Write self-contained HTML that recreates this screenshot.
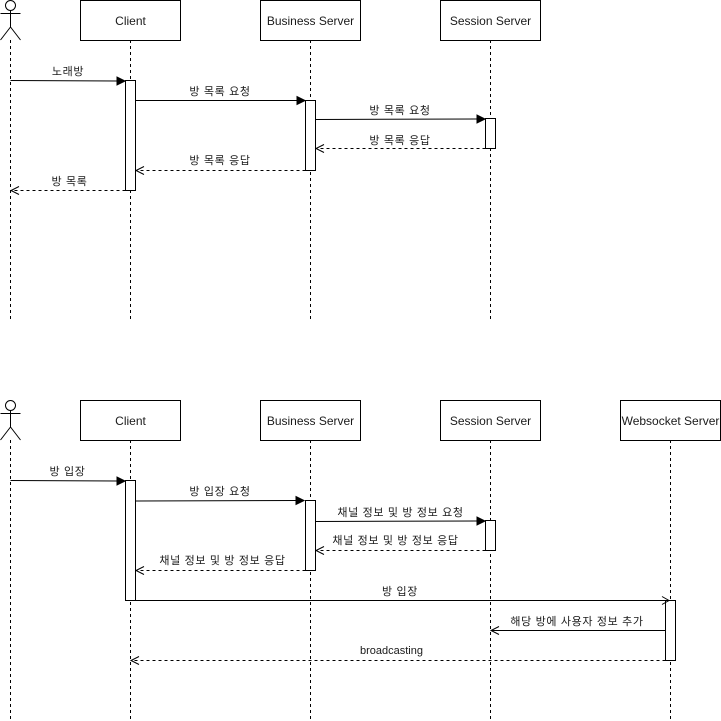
<!DOCTYPE html>
<html>
<head>
<meta charset="utf-8">
<style>
html,body{margin:0;padding:0;background:#fff;width:721px;height:721px;overflow:hidden}
svg{display:block}
text{font-family:"Liberation Sans","Noto Sans CJK KR",sans-serif;font-size:11px;fill:#1a1a1a;text-anchor:middle;letter-spacing:.65px}
text.h{font-size:12px;letter-spacing:0}
text.e{letter-spacing:0}
.l{stroke:#000;stroke-width:1;fill:none}
.d{stroke:#000;stroke-width:1;fill:none;stroke-dasharray:3 3}
.b{stroke:#000;stroke-width:1;fill:#fff}
</style>
</head>
<body>
<svg width="721" height="721" viewBox="0 0 721 721" xmlns="http://www.w3.org/2000/svg">
<!-- lifelines top -->
<path class="d" d="M10.5 40V320M130.5 40V320M310.5 40V320M490.5 40V320"/>
<!-- lifelines bottom -->
<path class="d" d="M10.5 440V720M130.5 440V720M310.5 440V720M490.5 440V720M670.5 440V720"/>

<!-- actor top -->
<circle class="b" cx="10.5" cy="5.5" r="5"/>
<path class="l" d="M10.5 10.5V27M0.5 13.5H20.5M10.5 27L0.5 40M10.5 27L20.5 40"/>
<!-- actor bottom -->
<circle class="b" cx="10.5" cy="405.5" r="5"/>
<path class="l" d="M10.5 410.5V427M0.5 413.5H20.5M10.5 427L0.5 440M10.5 427L20.5 440"/>

<!-- header boxes top -->
<rect class="b" x="80.5" y="0.5" width="100" height="40"/>
<rect class="b" x="260.5" y="0.5" width="100" height="40"/>
<rect class="b" x="440.5" y="0.5" width="100" height="40"/>
<text class="h" x="130.5" y="25">Client</text>
<text class="h" x="310.5" y="25">Business Server</text>
<text class="h" x="490.5" y="25">Session Server</text>

<!-- header boxes bottom -->
<rect class="b" x="80.5" y="400.5" width="100" height="40"/>
<rect class="b" x="260.5" y="400.5" width="100" height="40"/>
<rect class="b" x="440.5" y="400.5" width="100" height="40"/>
<rect class="b" x="620.5" y="400.5" width="100" height="40"/>
<text class="h" x="130.5" y="425">Client</text>
<text class="h" x="310.5" y="425">Business Server</text>
<text class="h" x="490.5" y="425">Session Server</text>
<text class="h" x="670.5" y="425">Websocket Server</text>

<!-- activations top -->
<rect class="b" x="125.5" y="80.5" width="10" height="110"/>
<rect class="b" x="305.5" y="100.5" width="10" height="70"/>
<rect class="b" x="485.5" y="118.5" width="10" height="30"/>

<!-- activations bottom -->
<rect class="b" x="125.5" y="480.5" width="10" height="120"/>
<rect class="b" x="305.5" y="500.5" width="10" height="70"/>
<rect class="b" x="485.5" y="520.5" width="10" height="30"/>
<rect class="b" x="665.5" y="600.5" width="10" height="60"/>

<!-- top messages -->
<path class="l" d="M10.5 80.5L118 81"/>
<path d="M125 81L117 85V77Z" fill="#000" stroke="#000"/>
<path class="l" d="M135.5 100.5H298"/>
<path d="M305 100.5L297 104.500V96.500Z" fill="#000" stroke="#000"/>
<path class="l" d="M315.500 119.500L478 119"/>
<path d="M485 119L477 123V115Z" fill="#000" stroke="#000"/>
<path class="d" d="M485.500 148.500H316"/>
<path class="l" d="M324 144.500L316 148.500L324 152.500"/>
<path class="d" d="M305.500 170.500H136"/>
<path class="l" d="M144 166.500L136 170.500L144 174.500"/>
<path class="d" d="M125.500 190.500H11"/>
<path class="l" d="M19 186.500L11 190.500L19 194.500"/>

<text x="68" y="75">노래방</text>
<text x="220" y="95">방 목록 요청</text>
<text x="400" y="114">방 목록 요청</text>
<text x="400" y="144">방 목록 응답</text>
<text x="220" y="164">방 목록 응답</text>
<text x="69.500" y="185">방 목록</text>

<!-- bottom messages -->
<path class="l" d="M10.500 480.500L118 481"/>
<path d="M125 481L117 485V477Z" fill="#000" stroke="#000"/>
<path class="l" d="M135.500 501L298 500.500"/>
<path d="M304 500.500L296 504.500V496.500Z" fill="#000" stroke="#000"/>
<path class="l" d="M315.500 521.500L478 521"/>
<path d="M485 521L477 525V517Z" fill="#000" stroke="#000"/>
<path class="d" d="M485.500 550.500H316"/>
<path class="l" d="M324 546.500L316 550.500L324 554.500"/>
<path class="d" d="M305.500 570.500H136"/>
<path class="l" d="M144 566.500L136 570.500L144 574.500"/>
<path class="l" d="M135.500 600.500H668"/>
<path class="l" d="M662 596.500L669 600.500L662 604.500"/>
<path class="l" d="M665.500 630.500H491"/>
<path class="l" d="M499 626.500L491 630.500L499 634.500"/>
<path class="d" d="M665.500 660.500H131"/>
<path class="l" d="M139 656.500L131 660.500L139 664.500"/>

<text x="67.500" y="475">방 입장</text>
<text x="220" y="495">방 입장 요청</text>
<text x="400.500" y="516">채널 정보 및 방 정보 요청</text>
<text x="395.500" y="544">채널 정보 및 방 정보 응답</text>
<text x="222.500" y="564">채널 정보 및 방 정보 응답</text>
<text x="400" y="595">방 입장</text>
<text x="577" y="625">해당 방에 사용자 정보 추가</text>
<text class="e" x="391.500" y="654">broadcasting</text>
</svg>
</body>
</html>
